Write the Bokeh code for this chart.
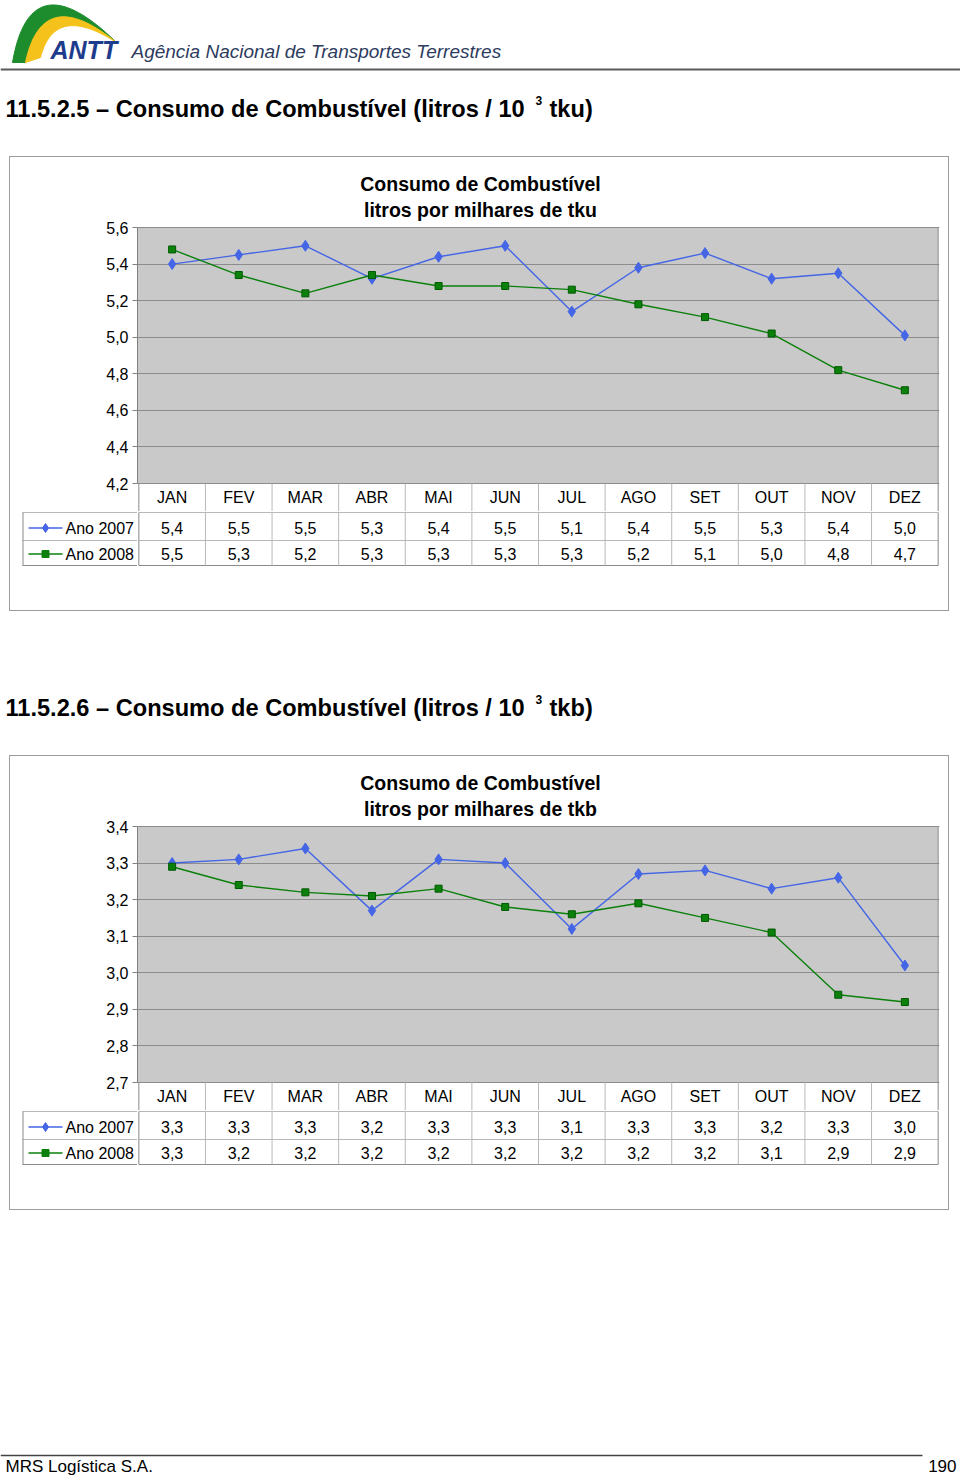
import numpy as np
from bokeh.plotting import figure
from bokeh.models import Range1d, FixedTicker, CustomJSTickFormatter, Spacer
from bokeh.layouts import column, row
from bokeh.core.properties import value
from bokeh.embed import file_html
from bokeh.resources import INLINE

# ---------------- data ----------------
MONTHS = ["JAN", "FEV", "MAR", "ABR", "MAI", "JUN", "JUL", "AGO", "SET", "OUT", "NOV", "DEZ"]
SERIES = ["Ano 2007", "Ano 2008"]

TKU_2007 = [5.40, 5.45, 5.50, 5.32, 5.44, 5.50, 5.14, 5.38, 5.46, 5.32, 5.35, 5.01]
TKU_2008 = [5.48, 5.34, 5.24, 5.34, 5.28, 5.28, 5.26, 5.18, 5.11, 5.02, 4.82, 4.71]
TKU_TABLE_2007 = ["5,4", "5,5", "5,5", "5,3", "5,4", "5,5", "5,1", "5,4", "5,5", "5,3", "5,4", "5,0"]
TKU_TABLE_2008 = ["5,5", "5,3", "5,2", "5,3", "5,3", "5,3", "5,3", "5,2", "5,1", "5,0", "4,8", "4,7"]
TKU_TICKS = [4.2, 4.4, 4.6, 4.8, 5.0, 5.2, 5.4, 5.6]

TKB_2007 = [3.30, 3.31, 3.34, 3.17, 3.31, 3.30, 3.12, 3.27, 3.28, 3.23, 3.26, 3.02]
TKB_2008 = [3.29, 3.24, 3.22, 3.21, 3.23, 3.18, 3.16, 3.19, 3.15, 3.11, 2.94, 2.92]
TKB_TABLE_2007 = ["3,3", "3,3", "3,3", "3,2", "3,3", "3,3", "3,1", "3,3", "3,3", "3,2", "3,3", "3,0"]
TKB_TABLE_2008 = ["3,3", "3,2", "3,2", "3,2", "3,2", "3,2", "3,2", "3,2", "3,2", "3,1", "2,9", "2,9"]
TKB_TICKS = [2.7, 2.8, 2.9, 3.0, 3.1, 3.2, 3.3, 3.4]

# ---------------- style / layout ----------------
FONT = value("Liberation Sans")
GRAY = "#c9c9c9"
GRID = "#8c8c8c"
AXIS = "#808080"
CELL = "#b8b8b8"
OUTER = "#8a8a8a"
BLUE = "#4466e6"
GREEN = "#0b800b"

BOX_W = 938
LEFT = 127
RIGHT = 9
FRAME_W = BOX_W - LEFT - RIGHT
XS, XE = -0.02, 12.02
COLW = FRAME_W / (XE - XS)
TOP_PAD = 70
PLOT_H = 256
HEAD_H = 28
A_H = TOP_PAD + PLOT_H + HEAD_H
B_H = 99
ROW_EDGES = [1, 29, 54]
ROW_MID = [16.5, 42.5]


def px2x(px):
    return XS + (px - LEFT) / COLW


def base_fig(**kw):
    f = figure(output_backend="svg", toolbar_location=None, title=None, **kw)
    f.outline_line_color = None
    f.background_fill_color = "white"
    f.border_fill_color = "white"
    return f


def make_chart(v07, v08, t07, t08, ticks, unit):
    ymin, ymax = ticks[0], ticks[-1]
    ppu = PLOT_H / (ymax - ymin)
    yt = ymax + TOP_PAD / ppu
    yb = ymin - HEAD_H / ppu
    xs = [i + 0.5 for i in range(len(MONTHS))]

    a = base_fig(width=BOX_W, height=A_H, x_range=Range1d(XS, XE), y_range=Range1d(yb, yt),
                 x_axis_location=None, min_border_left=LEFT, min_border_right=RIGHT,
                 min_border_top=0, min_border_bottom=0)
    tk = FixedTicker(ticks=ticks)
    ax = a.yaxis[0]
    ax.ticker = tk
    ax.bounds = (ymin, ymax)
    ax.formatter = CustomJSTickFormatter(code="return tick.toFixed(1).replace('.', ',')")
    ax.major_label_text_font = "Liberation Sans"
    ax.major_label_text_font_size = "16px"
    ax.major_label_text_color = "black"
    ax.axis_line_color = AXIS
    ax.major_tick_line_color = AXIS
    ax.major_tick_out = 5
    ax.major_tick_in = 0
    ax.minor_tick_line_color = None
    ax.major_label_standoff = 4
    a.xgrid.visible = False
    a.ygrid.ticker = tk
    a.ygrid.bounds = (ymin, ymax)
    a.ygrid.grid_line_color = GRID
    a.ygrid.grid_line_width = 1

    a.quad(left=XS, right=len(MONTHS), bottom=ymin, top=ymax, fill_color=GRAY,
           line_color=GRID, line_width=1, level="image")

    # header row of the data table (month names)
    edges = list(range(len(MONTHS) + 1))
    inner = edges[1:-1]
    a.segment(x0=inner, y0=[ymin] * len(inner), x1=inner, y1=[yb] * len(inner),
              line_color=CELL, line_width=1)
    a.segment(x0=[edges[0], edges[-1]], y0=[ymin, ymin], x1=[edges[0], edges[-1]], y1=[yb, yb],
              line_color=OUTER, line_width=1)
    a.text(x=xs, y=[ymin - 14 / ppu] * len(xs), text=MONTHS, text_font=FONT,
           text_font_size=value("16px"), text_align="center", text_baseline="middle",
           text_color="black")

    # chart titles
    a.text(x=[px2x(470)], y=[ymax + 44 / ppu], text=["Consumo de Combustível"], text_font=FONT,
           text_font_size=value("19.5px"), text_font_style="bold", text_align="center",
           text_baseline="middle", text_color="black")
    a.text(x=[px2x(470)], y=[ymax + 18 / ppu], text=["litros por milhares de " + unit],
           text_font=FONT, text_font_size=value("19.5px"), text_font_style="bold",
           text_align="center", text_baseline="middle", text_color="black")

    # series
    a.line(x=xs, y=v07, line_color=BLUE, line_width=1.4)
    a.scatter(x=xs, y=v07, marker="diamond", size=11, fill_color=BLUE, line_color=BLUE)
    a.line(x=xs, y=v08, line_color=GREEN, line_width=1.4)
    a.scatter(x=xs, y=v08, marker="square", size=7, fill_color=GREEN, line_color="#005a00")

    # table body: legend column
    lg = base_fig(width=LEFT, height=B_H, x_range=Range1d(0, LEFT), y_range=Range1d(B_H, 0),
                  x_axis_location=None, y_axis_location=None, min_border=0)
    lg.grid.visible = False
    nrow = len(ROW_EDGES)
    lg.segment(x0=[12] * nrow, y0=ROW_EDGES, x1=[LEFT] * nrow, y1=ROW_EDGES,
               line_color=[CELL, CELL, OUTER], line_width=1)
    lg.segment(x0=[12.5], y0=[ROW_EDGES[0]], x1=[12.5], y1=[ROW_EDGES[-1]], line_color=OUTER,
               line_width=1)
    for r, (col, mk, msz) in enumerate([(BLUE, "diamond", 9), (GREEN, "square", 7)]):
        y = ROW_MID[r]
        lg.line(x=[18, 52], y=[y, y], line_color=col, line_width=1.4)
        lg.scatter(x=[35], y=[y], marker=mk, size=msz, fill_color=col, line_color=col)
        lg.text(x=[55], y=[y], text=[SERIES[r]], text_font=FONT, text_font_size=value("16px"),
                text_align="left", text_baseline="middle", text_color="black")

    # table body: values
    tb = base_fig(width=BOX_W - LEFT, height=B_H, x_range=Range1d(XS, XE), y_range=Range1d(B_H, 0),
                  x_axis_location=None, y_axis_location=None, min_border_left=0,
                  min_border_right=RIGHT, min_border_top=0, min_border_bottom=0)
    tb.grid.visible = False
    tb.segment(x0=[0] * nrow, y0=ROW_EDGES, x1=[len(MONTHS)] * nrow, y1=ROW_EDGES,
               line_color=[CELL, CELL, OUTER], line_width=1)
    tb.segment(x0=inner, y0=[ROW_EDGES[0]] * len(inner), x1=inner, y1=[ROW_EDGES[-1]] * len(inner),
               line_color=CELL, line_width=1)
    tb.segment(x0=[0, len(MONTHS)], y0=[ROW_EDGES[0]] * 2, x1=[0, len(MONTHS)],
               y1=[ROW_EDGES[-1]] * 2, line_color=OUTER, line_width=1)
    for r, vals in enumerate([t07, t08]):
        y = ROW_MID[r]
        tb.text(x=xs, y=[y] * len(xs), text=vals, text_font=FONT, text_font_size=value("16px"),
                text_align="center", text_baseline="middle", text_color="black")

    box = column([a, row([lg, tb])], styles={"border": "1px solid #9c9c9c"})
    return row([Spacer(width=9, height=A_H + B_H + 2), box])


def page_fig(y0, y1):
    f = base_fig(width=960, height=y1 - y0, x_range=Range1d(0, 960), y_range=Range1d(y1, y0),
                 x_axis_location=None, y_axis_location=None, min_border=0)
    f.grid.visible = False
    return f


def section_title(f, mid, num, unit):
    f.text(x=[5], y=[mid], text=[num + " – Consumo de Combustível (litros / 10"], text_font=FONT,
           text_font_size=value("23.6px"), text_font_style="bold", text_baseline="middle",
           text_color="black")
    f.text(x=[535], y=[mid - 8], text=["3"], text_font=FONT, text_font_size=value("12px"),
           text_font_style="bold", text_baseline="middle", text_color="black")
    f.text(x=[549], y=[mid], text=[unit + ")"], text_font=FONT, text_font_size=value("23.6px"),
           text_font_style="bold", text_baseline="middle", text_color="black")


def qbez(p0, p1, p2, n=50):
    t = np.linspace(0, 1, n)
    x = (1 - t) ** 2 * p0[0] + 2 * (1 - t) * t * p1[0] + t ** 2 * p2[0]
    y = (1 - t) ** 2 * p0[1] + 2 * (1 - t) * t * p1[1] + t ** 2 * p2[1]
    return x, y


# header
hdr = page_fig(0, 156)
ox, oy = qbez((12, 62), (30, -42), (116, 42))
ix, iy = qbez((25, 62), (42, -18), (116, 42))
yx, yy = qbez((40, 57), (54, 2), (116, 42))
hdr.patch(x=np.concatenate([ox, ix[::-1]]), y=np.concatenate([oy, iy[::-1]]),
          fill_color="#1c8c2c", line_color="#1c8c2c")
hdr.patch(x=np.concatenate([ix, yx[::-1]]), y=np.concatenate([iy, yy[::-1]]),
          fill_color="#f5c21b", line_color="#f5c21b")
hdr.text(x=[50], y=[49], text=["ANTT"], text_font=FONT, text_font_size=value("25px"),
         text_font_style="bold italic", text_color="#1e3c8c", text_baseline="middle")
hdr.text(x=[131], y=[51], text=["Agência Nacional de Transportes Terrestres"], text_font=FONT,
         text_font_size=value("19px"), text_font_style="italic", text_color="#2d3b5e",
         text_baseline="middle")
hdr.segment(x0=[0], y0=[69], x1=[960], y1=[69], line_color="#5a5a5a", line_width=2)
section_title(hdr, 108, "11.5.2.5", "tku")

chart1 = make_chart(TKU_2007, TKU_2008, TKU_TABLE_2007, TKU_TABLE_2008, TKU_TICKS, "tku")

gap = page_fig(611, 755)
section_title(gap, 707, "11.5.2.6", "tkb")

chart2 = make_chart(TKB_2007, TKB_2008, TKB_TABLE_2007, TKB_TABLE_2008, TKB_TICKS, "tkb")

ftr = page_fig(1210, 1478)
ftr.segment(x0=[0], y0=[1455], x1=[922], y1=[1455], line_color="#444444", line_width=1.5)
ftr.text(x=[5], y=[1466], text=["MRS Logística S.A."], text_font=FONT, text_font_size=value("17px"),
         text_baseline="middle", text_color="black")
ftr.text(x=[956], y=[1465], text=["190"], text_font=FONT, text_font_size=value("17px"),
         text_align="right", text_baseline="middle", text_color="black")

page = column([hdr, chart1, gap, chart2, ftr])
open("out.html", "w").write(file_html(page, INLINE))
